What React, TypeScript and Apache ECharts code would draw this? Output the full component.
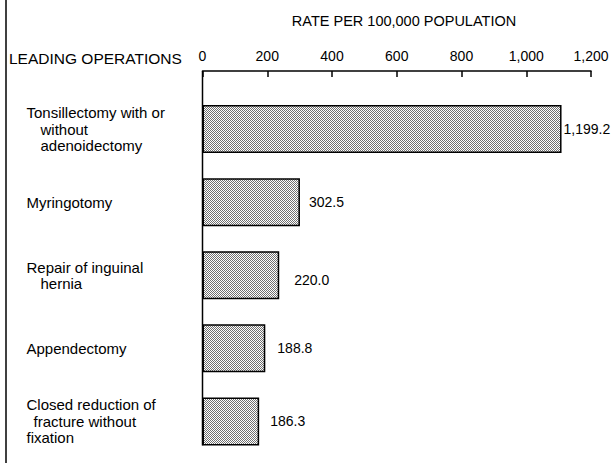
import React, { useEffect, useRef } from "react";
import * as echarts from "echarts";

// Operation categories (leading spaces = indented continuation lines)
const categories = [
  "Tonsillectomy with or\n    without\n    adenoidectomy",
  "Myringotomy",
  "Repair of inguinal\n    hernia",
  "Appendectomy",
  "Closed reduction of\n  fracture without\nfixation",
];
// Printed rates per 100,000 population
const rateLabels = ["1,199.2", "302.5", "220.0", "188.8", "186.3"];
// Bar lengths as drawn in the original figure
const barLengths = [1109, 301, 237, 194, 175];
// Axis range
const axisMin = 0;
const axisMax = 1200;
const axisStep = 200;

const FONT = "'Liberation Sans', Arial, Helvetica, sans-serif";
const INK = "#000";

function fmtThousands(v: number): string {
  const s = String(Math.round(v));
  return s.replace(/\B(?=(\d{3})+(?!\d))/g, ",");
}

export default function App() {
  const ref = useRef<HTMLDivElement>(null);

  useEffect(() => {
    document.body.style.margin = "0";
    if (!ref.current) return;
    const chart = echarts.init(ref.current, undefined, { renderer: "svg" });

    const canvas = document.createElement("canvas");
    canvas.width = 2;
    canvas.height = 2;
    const ctx = canvas.getContext("2d");
    if (ctx) {
      ctx.fillStyle = "#ffffff";
      ctx.fillRect(0, 0, 2, 2);
      ctx.fillStyle = "#707070";
      ctx.fillRect(0, 0, 1, 1);
      ctx.fillRect(1, 1, 1, 1);
    }

    const gridTop = 92.5;
    const axisOffset = 21.5;
    const barWidth = 48;
    const labelGaps = [2, 9, 15, 12, 11];
    const labelShift = [0, 0, 5, 0, 0];
    const catFont = 15;
    const catLine = 16.5;

    chart.setOption({
      animation: false,
      grid: { left: 202.5, right: 23, top: gridTop, bottom: 5, containLabel: false },
      xAxis: {
        type: "value",
        position: "top",
        offset: axisOffset,
        min: axisMin,
        max: axisMax,
        interval: axisStep,
        splitLine: { show: false },
        axisLine: { show: true, lineStyle: { color: INK, width: 1.5 } },
        axisTick: { show: true, inside: true, length: 6, lineStyle: { color: INK, width: 1.5 } },
        axisLabel: {
          color: INK,
          fontFamily: FONT,
          fontSize: 14,
          margin: 8,
          formatter: (v: number) => fmtThousands(v),
        },
      },
      yAxis: {
        type: "category",
        inverse: true,
        data: categories,
        axisLine: { show: false },
        axisTick: { show: false },
        splitLine: { show: false },
        axisLabel: {
          interval: 0,
          align: "left",
          margin: 176,
          color: INK,
          fontFamily: FONT,
          fontSize: catFont,
          lineHeight: catLine,
          formatter: (value: string) =>
            value
              .split("\n")
              .map((line) => {
                const n = (line.match(/^ */) || [""])[0].length;
                return `{i${n}|${line.trim()}}`;
              })
              .join("\n"),
          rich: {
            i0: { fontFamily: FONT, fontSize: catFont, lineHeight: catLine, color: INK },
            i2: { fontFamily: FONT, fontSize: catFont, lineHeight: catLine, color: INK, padding: [0, 0, 0, 7] },
            i4: { fontFamily: FONT, fontSize: catFont, lineHeight: catLine, color: INK, padding: [0, 0, 0, 14] },
          },
        },
      },
      series: [
        {
          type: "bar",
          barWidth,
          data: barLengths.map((v, i) => ({
            value: v,
            label: { distance: labelGaps[i], offset: [0, labelShift[i]] },
          })),
          itemStyle: {
            color: { image: canvas, repeat: "repeat" },
            borderColor: INK,
            borderWidth: 1.5,
          },
          label: {
            show: true,
            position: "right",
            color: INK,
            fontFamily: FONT,
            fontSize: 14,
            formatter: (p: any) => rateLabels[p.dataIndex],
          },
        },
      ],
    });

    const x0 = chart.convertToPixel({ xAxisIndex: 0 }, axisMin) as number;
    const yLast = chart.convertToPixel({ yAxisIndex: 0 }, categories[categories.length - 1]) as number;
    const yAxisTop = gridTop - axisOffset;

    chart.setOption({
      graphic: [
        {
          type: "line",
          shape: { x1: 6, y1: 0, x2: 6, y2: 463 },
          style: { stroke: INK, lineWidth: 1.5 },
        },
        {
          type: "line",
          shape: { x1: x0, y1: yAxisTop, x2: x0, y2: yLast + barWidth / 2 },
          style: { stroke: INK, lineWidth: 1.5 },
        },
        {
          type: "text",
          x: 404,
          y: 21,
          style: {
            text: "RATE PER 100,000 POPULATION",
            fill: INK,
            font: `14.5px ${FONT}`,
            textAlign: "center",
            textVerticalAlign: "middle",
          },
        },
        {
          type: "text",
          x: 9,
          y: 58,
          style: {
            text: "LEADING OPERATIONS",
            fill: INK,
            font: `15.5px ${FONT}`,
            textAlign: "left",
            textVerticalAlign: "middle",
          },
        },
      ],
    });

    return () => chart.dispose();
  }, []);

  return <div ref={ref} style={{ width: 614, height: 463 }} />;
}
